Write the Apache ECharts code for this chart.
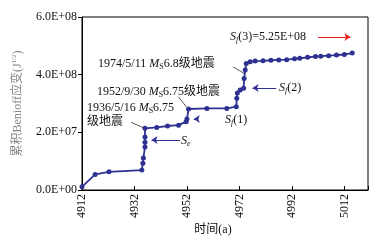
<!DOCTYPE html>
<html>
<head>
<meta charset="utf-8">
<script src="https://cdn.jsdelivr.net/npm/echarts@6/dist/echarts.min.js"></script>
<style>
  html, body { margin: 0; padding: 0; background: #fff; }
  #chart { width: 383px; height: 244px; }
</style>
</head>
<body>
<div id="chart"></div>
<script>
// 时间(年)和累积Benioff应变
const years = [4912, 4917, 4922.3, 4934.8, 4935.2, 4935.4, 4936, 4936, 4936, 4936,
  4940.5, 4944.6, 4948.8, 4951.7, 4952, 4952.6, 4959.6, 4967.2, 4970.8, 4971,
  4971.2, 4972.3, 4973.6, 4973.8, 4974.2, 4974.6, 4976.1, 4978, 4981, 4984,
  4987, 4990, 4993, 4995, 4998, 5001, 5003, 5006, 5009, 5012, 5015]
const strain = [0.11e8, 0.54e8, 0.63e8, 0.69e8, 0.93e8, 1.11e8, 1.49e8, 1.66e8, 1.84e8, 2.14e8,
  2.17e8, 2.22e8, 2.25e8, 2.37e8, 2.46e8, 2.81e8, 2.83e8, 2.83e8, 2.89e8, 3.18e8,
  3.36e8, 3.47e8, 3.53e8, 3.87e8, 4.16e8, 4.39e8, 4.45e8, 4.47e8, 4.48e8, 4.5e8,
  4.51e8, 4.52e8, 4.55e8, 4.57e8, 4.6e8, 4.63e8, 4.64e8, 4.66e8, 4.68e8, 4.7e8, 4.75e8]
// 原图纵轴刻度文字
const yTickLabels = ['0.0E+00', '2.0E+07', '4.0E+08', '6.0E+08']

const serif = '"Liberation Serif", "Noto Sans CJK SC", serif'
const blue = '#2e3192'

const chart = echarts.init(document.getElementById('chart'))

// 箭头和引线（数据坐标）
function arrow(from, to, color) {
  return [
    { coord: from, symbol: 'none', lineStyle: { color: color || blue } },
    { coord: to, symbol: 'arrow' }
  ]
}
function leader(from, to) {
  return [
    { coord: from, symbol: 'none', lineStyle: { color: '#333', width: 0.8 } },
    { coord: to, symbol: 'none' }
  ]
}

const rich = {
  i: { fontFamily: serif, fontStyle: 'italic', fontSize: 12, fill: '#111', color: '#111' },
  sub: { fontFamily: serif, fontSize: 8, verticalAlign: 'bottom', padding: [5, 0, 0, 0], color: '#111' },
  isub: { fontFamily: serif, fontStyle: 'italic', fontSize: 8, padding: [5, 0, 0, 0], color: '#111' },
  t: { fontFamily: serif, fontSize: 12, color: '#111' }
}

function txt(x, y, text) {
  return {
    type: 'text', x, y,
    style: { text, rich, font: '12px ' + serif, fill: '#111', textVerticalAlign: 'middle' }
  }
}

chart.setOption({
  animation: false,
  grid: { left: 82, right: 15, top: 17, bottom: 54, show: true, borderColor: '#000', borderWidth: 1 },
  xAxis: {
    type: 'value', min: 4912, max: 5021, interval: 20,
    axisLine: { lineStyle: { color: '#000' } },
    axisTick: { inside: true, length: 4, lineStyle: { color: '#000' } },
    axisLabel: { rotate: 90, fontFamily: serif, fontSize: 12, color: '#111', margin: 4,
      formatter: v => (v > 5020 ? '' : String(v)) },
    splitLine: { show: false }
  },
  yAxis: {
    type: 'value', min: 0, max: 6e8, interval: 2e8,
    axisLine: { show: true, lineStyle: { color: '#000' } },
    axisTick: { show: true, length: 4, lineStyle: { color: '#000' } },
    axisLabel: { fontFamily: serif, fontSize: 12, color: '#111', margin: 5,
      formatter: (v) => yTickLabels[Math.round(v / 2e8)] },
    splitLine: { show: false },
    name: '累积Benioff应变(J{s|1/2})',
    nameLocation: 'middle', nameGap: 58,
    nameTextStyle: { fontFamily: serif, fontSize: 12, color: '#888',
      rich: { s: { fontSize: 7, verticalAlign: 'top', padding: [0, 0, 6, 0], color: '#888' } } }
  },
  series: [{
    type: 'line',
    data: years.map((y, i) => [y, strain[i]]),
    symbol: 'circle', symbolSize: 5,
    itemStyle: { color: blue },
    lineStyle: { color: blue, width: 1.8 },
    markLine: {
      silent: true, symbolSize: 6, label: { show: false },
      lineStyle: { type: 'solid', width: 1 },
      data: [
        arrow([4949.4, 1.73e8], [4938.5, 1.73e8]),
        arrow([4955.6, 2.46e8], [4954.6, 2.46e8]),
        arrow([4986, 3.54e8], [4977, 3.54e8]),
        arrow([5002, 5.31e8], [5014.3, 5.31e8], '#e8231c'),
        leader([4969.6, 4.27e8], [4974.2, 4.02e8]),
        leader([4948.8, 3.23e8], [4951.8, 2.88e8]),
        leader([4930.7, 2.35e8], [4935.6, 2.15e8])
      ]
    }
  }],
  graphic: [
    txt(98, 64, '{t|1974/5/11 }{i|M}{sub|S}{t|6.8级地震}'),
    txt(97, 92, '{t|1952/9/30 }{i|M}{sub|S}{t|6.75级地震}'),
    txt(87, 108, '{t|1936/5/16 }{i|M}{sub|S}{t|6.75}'),
    txt(87, 122, '{t|级地震}'),
    txt(181, 141, '{i|S}{isub|e}'),
    txt(225, 120, '{i|S}{isub|f}{t|(1)}'),
    txt(279, 88, '{i|S}{isub|f}{t|(2)}'),
    txt(230, 37, '{i|S}{isub|f}{t|(3)=5.25E+08}'),
    { type: 'text', x: 213, y: 230,
      style: { text: '时间(a)', font: '12px ' + serif, fill: '#111', textAlign: 'center', textVerticalAlign: 'middle' } }
  ]
})
</script>
</body>
</html>
